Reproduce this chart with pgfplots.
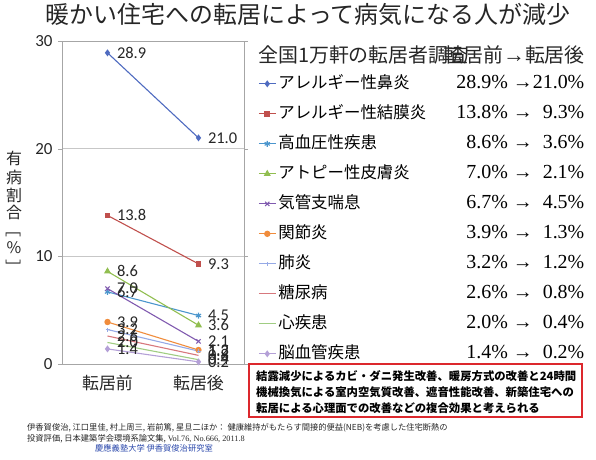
\documentclass[border=0pt]{standalone}
\usepackage{pgfplots}
\pgfplotsset{compat=1.18}
\usepackage{fontspec}
\setmainfont{Carlito}
\newfontfamily\jp{Noto Sans CJK JP}
\newfontfamily\tms{Liberation Serif}

\definecolor{c1}{RGB}{79,107,192}
\definecolor{c2}{RGB}{192,80,77}
\definecolor{c3}{RGB}{75,150,205}
\definecolor{c4}{RGB}{145,190,80}
\definecolor{c5}{RGB}{128,90,175}
\definecolor{c6}{RGB}{240,140,60}
\definecolor{c7}{RGB}{150,170,230}
\definecolor{c8}{RGB}{215,120,125}
\definecolor{c9}{RGB}{160,205,130}
\definecolor{c10}{RGB}{180,160,215}
\definecolor{boxred}{RGB}{220,40,45}
\definecolor{labblue}{RGB}{40,70,170}

% value column of the legend: before -> after
\newcommand\vals[2]{{\tms\fontsize{20}{22}\selectfont #1\%~→#2\%}}
\newcommand\ent[3]{\makebox[306bp][l]{#1\hfill\vals{#2}{#3}}}

\begin{document}
\begin{tikzpicture}
\path[use as bounding box] (0,0) rectangle (596bp,460bp);

\node[font=\jp\fontsize{24}{24}\selectfont, text=black!85] at (308bp,446bp)
  {暖かい住宅への転居によって病気になる人が減少};

\begin{axis}[
  at={(62bp,96bp)}, anchor=south west, scale only axis,
  width=182bp, height=323bp,
  xmin=-0.5, xmax=1.5, ymin=0, ymax=30,
  xtick={0,1}, xticklabels={転居前,転居後},
  ytick={0,10,20,30},
  ymajorgrids, grid style={draw=black!22, line width=0.6bp},
  axis line style={draw=black!35, line width=0.6bp},
  xtick style={draw=none}, ytick style={draw=black!35},
  tick align=outside, major tick length=4bp,
  ticklabel style={font=\fontsize{17}{17}\selectfont, text=black!85},
  xticklabel style={font=\jp\fontsize{17}{17}\selectfont, yshift=-4bp},
  yticklabel style={xshift=-2bp},
  /pgf/number format/assume math mode=true,
  every axis plot/.append style={line width=1.1bp, mark size=2.6bp},
  nodes near coords={\pgfmathprintnumber[fixed,fixed zerofill,precision=1]{\pgfplotspointmeta}},
  nodes near coords style={anchor=west, font=\fontsize{16.5}{16.5}\selectfont,
    text=black!85, inner sep=1bp, xshift=8bp},
  legend cell align=left,
  legend style={at={(axis description cs:1.077,0.899)}, anchor=north west,
    draw=none, fill=none, inner sep=0pt, row sep=10bp,
    font=\jp\fontsize{16.5}{18}\selectfont,
    nodes={inner sep=2bp, text height=13bp, text depth=3bp}},
  clip=false,
]
\addplot[c1, mark=diamond*] coordinates {(0,28.9) (1,21.0)};
\addlegendentry{\ent{アレルギー性鼻炎}{28.9}{21.0}}
\addplot[c2, mark=square*, mark size=2.3bp] coordinates {(0,13.8) (1,9.3)};
\addlegendentry{\ent{アレルギー性結膜炎}{13.8}{\hphantom{0}9.3}}
\addplot[c3, mark=asterisk, mark size=3bp] coordinates {(0,6.7) (1,4.5)};
\addlegendentry{\ent{高血圧性疾患}{\hphantom{0}8.6}{\hphantom{0}3.6}}
\addplot[c4, mark=triangle*, mark size=3bp] coordinates {(0,8.6) (1,3.6)};
\addlegendentry{\ent{アトピー性皮膚炎}{\hphantom{0}7.0}{\hphantom{0}2.1}}
\addplot[c5, mark=x, mark size=3bp] coordinates {(0,7.0) (1,2.1)};
\addlegendentry{\ent{気管支喘息}{\hphantom{0}6.7}{\hphantom{0}4.5}}
\addplot[c6, mark=*] coordinates {(0,3.9) (1,1.3)};
\addlegendentry{\ent{関節炎}{\hphantom{0}3.9}{\hphantom{0}1.3}}
\addplot[c7, mark=+, mark size=2bp] coordinates {(0,3.2) (1,1.2)};
\addlegendentry{\ent{肺炎}{\hphantom{0}3.2}{\hphantom{0}1.2}}
\addplot[c8, no marks] coordinates {(0,2.6) (1,0.8)};
\addlegendentry{\ent{糖尿病}{\hphantom{0}2.6}{\hphantom{0}0.8}}
\addplot[c9, no marks] coordinates {(0,2.0) (1,0.4)};
\addlegendentry{\ent{心疾患}{\hphantom{0}2.0}{\hphantom{0}0.4}}
\addplot[c10, mark=diamond*] coordinates {(0,1.4) (1,0.2)};
\addlegendentry{\ent{脳血管疾患}{\hphantom{0}1.4}{\hphantom{0}0.2}}
\end{axis}

% vertical axis title
\begin{scope}[every node/.style={font=\jp\fontsize{16}{16}\selectfont, text=black!85, inner sep=0pt}]
\node at (14bp,302bp) {有};
\node at (14bp,283bp) {病};
\node at (14bp,265bp) {割};
\node at (14bp,248bp) {合};
\node at (14bp,231bp) {\rotatebox{-90}{［}};
\node at (14bp,212bp) {\%};
\node at (14bp,193bp) {\rotatebox{-90}{］}};
\end{scope}

% legend heading
\node[anchor=west, font=\jp\fontsize{20}{20}\selectfont, text=black!85, inner sep=0pt]
  at (258bp,405bp) {全国1万軒の転居者調査};
\node[anchor=east, font=\jp\fontsize{20}{20}\selectfont, text=black!85, inner sep=0pt]
  at (585bp,405bp) {転居前{\tms\fontsize{22}{22}\selectfont→}転居後};

% note box
\draw[boxred, line width=1.8bp, fill=white] (249bp,43bp) rectangle (582bp,96bp);
\begin{scope}[every node/.style={anchor=west, font=\jp\bfseries\fontsize{11.4}{12}\selectfont, inner sep=0pt}]
\node at (256bp,84bp) {結露減少によるカビ・ダニ発生改善、暖房方式の改善と24時間};
\node at (256bp,68bp) {機械換気による室内空気質改善、遮音性能改善、新築住宅への};
\node at (256bp,52bp) {転居による心理面での改善などの複合効果と考えられる};
\end{scope}

% reference
\begin{scope}[every node/.style={anchor=west, font=\jp\fontsize{8.3}{9}\selectfont, text=black!85, inner sep=0pt}]
\node at (27bp,32bp) {伊香賀俊治, 江口里佳, 村上周三, 岩前篤, 星旦二ほか： 健康維持がもたらす間接的便益(NEB)を考慮した住宅断熱の};
\node at (27bp,21bp) {投資評価, 日本建築学会環境系論文集, {\tms Vol.76, No.666, 2011.8}};
\node[text=labblue] at (95bp,12bp) {慶應義塾大学 伊香賀俊治研究室};
\end{scope}
\end{tikzpicture}
\end{document}
